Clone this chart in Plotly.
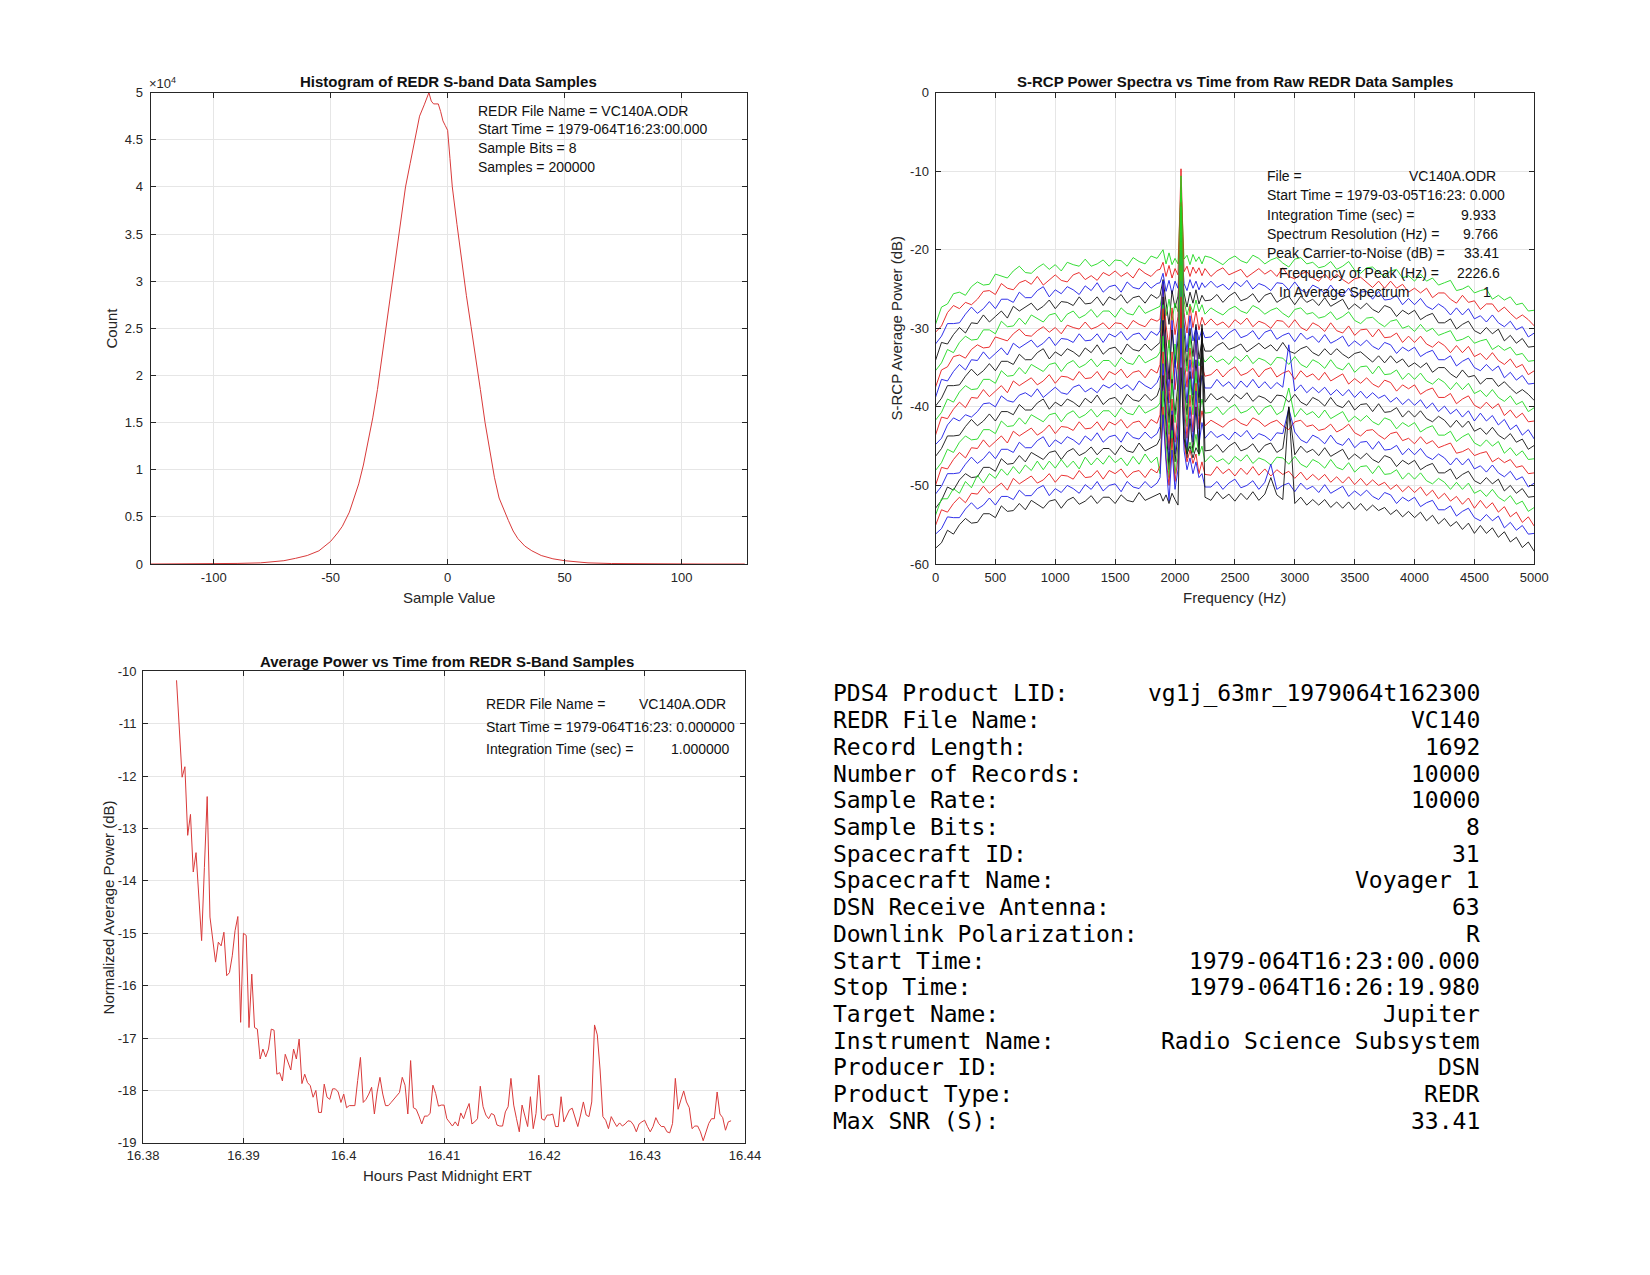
import plotly.graph_objects as go

W, H = 1650, 1275

# ---------------- Histogram data ----------------
HIST_SAMPLE_VALUES = [-127, -110, -100, -90, -80, -75, -70, -65, -60, -55, -50, -47, -45, -42, -40,
                      -38, -36, -34, -32, -30, -28, -26, -24, -22, -20, -18, -16, -15, -14, -12,
                      -10, -8, -7, -6, -5, -4, -3, -2, -1, 0, 1, 2, 4, 6, 8, 10, 12, 14, 16, 18,
                      20, 22, 24, 26, 28, 30, 33, 36, 40, 45, 50, 55, 60, 70, 80, 90, 100, 110, 127]
HIST_COUNTS = [0, 10, 30, 60, 120, 200, 350, 600, 900, 1400, 2400, 3300, 4000, 5500, 7000,
               8500, 10500, 13000, 15500, 18500, 22000, 25500, 29000, 32500, 36000, 40000, 42500, 43800, 44700, 47500,
               48700, 50000, 49100, 48800, 48800, 48800, 48000, 47000, 46500, 46000, 43000, 40000, 36000, 32000, 28500,
               25200, 22000, 18500, 15000, 12000, 9200, 7000, 5700, 4600, 3500, 2700, 1900, 1400, 900, 550,
               350, 200, 120, 50, 20, 10, 5, 0, 0]
HIST_XTICKS = [-100, -50, 0, 50, 100]
HIST_XTICK_LABELS = ["-100", "-50", "0", "50", "100"]
HIST_YTICKS = [0, 5000, 10000, 15000, 20000, 25000, 30000, 35000, 40000, 45000, 50000]
HIST_YTICK_LABELS = ["0", "0.5", "1", "1.5", "2", "2.5", "3", "3.5", "4", "4.5", "5"]

# ---------------- Spectra data (20 spectra, dB) ----------------
SPEC_F_LEFT = list(range(0, 1851, 50))
SPEC_F_CENTER = list(range(1875, 2251, 25))
SPEC_F_RIGHT = list(range(2300, 5001, 50))
SPEC_COLORS = ["#1ed81e", "#e81818", "#1a1ae6", "#111111"]

SPEC_LEFT = [
    [-29.5,-27.3,-26.9,-25.6,-25.4,-25.8,-24.7,-24.1,-24.5,-24.4,-23.1,-23.4,-23.6,-22.7,-22.1,-22.9,-23.0,-22.3,-21.8,-22.5,-21.9,-22.7,-21.6,-21.9,-22.1,-21.2,-22.1,-21.8,-21.3,-22.1,-21.3,-21.4,-22.1,-21.0,-21.5,-21.8,-20.8,-21.1],
    [-30.5,-29.7,-28.0,-27.1,-27.5,-26.7,-27.0,-26.3,-25.3,-25.2,-25.7,-24.3,-24.9,-25.1,-24.2,-23.9,-24.4,-23.4,-24.5,-23.8,-23.2,-23.9,-24.1,-23.2,-22.9,-23.8,-23.3,-23.9,-22.9,-23.3,-22.7,-23.4,-22.9,-23.6,-22.4,-23.0,-23.4,-22.6],
    [-32.0,-31.0,-29.4,-29.4,-29.3,-28.2,-27.3,-28.1,-27.5,-26.6,-27.5,-26.3,-26.3,-26.7,-25.4,-26.1,-26.1,-25.2,-24.7,-26.0,-25.1,-25.6,-24.7,-25.1,-25.7,-24.6,-25.2,-24.2,-25.4,-24.7,-24.5,-25.4,-24.1,-24.8,-25.0,-24.1,-24.9,-24.3],
    [-34.1,-31.8,-32.0,-30.8,-29.9,-30.6,-29.3,-29.4,-28.3,-29.2,-28.5,-27.8,-28.7,-27.2,-27.8,-27.3,-26.8,-27.7,-27.2,-26.4,-27.5,-26.6,-26.7,-27.1,-26.0,-26.9,-26.8,-26.0,-27.1,-26.0,-26.4,-25.7,-26.8,-26.1,-25.9,-26.8,-25.7,-26.2],
    [-35.4,-34.4,-32.7,-33.1,-31.8,-31.0,-31.5,-31.4,-30.2,-30.2,-30.7,-29.1,-29.8,-29.7,-28.7,-29.5,-28.3,-28.8,-29.2,-28.3,-28.1,-29.2,-28.2,-27.8,-28.7,-28.3,-27.6,-28.6,-27.8,-27.8,-28.6,-27.4,-28.1,-28.3,-27.1,-28.1,-27.7,-27.3],
    [-37.5,-35.3,-34.9,-33.6,-33.4,-33.8,-32.7,-32.1,-32.5,-32.4,-31.1,-31.4,-31.6,-30.7,-30.1,-30.9,-31.0,-30.3,-29.8,-30.5,-29.9,-30.7,-29.6,-29.9,-30.1,-29.2,-30.1,-29.8,-29.3,-30.1,-29.3,-29.4,-30.1,-29.0,-29.5,-29.8,-28.8,-29.1],
    [-38.8,-36.5,-36.7,-35.5,-34.6,-35.3,-34.0,-34.1,-33.0,-33.9,-33.2,-32.5,-33.4,-31.9,-32.5,-32.0,-31.5,-32.4,-31.9,-31.1,-32.2,-31.3,-31.4,-31.8,-30.7,-31.6,-31.5,-30.7,-31.8,-30.7,-31.1,-30.4,-31.5,-30.8,-30.6,-31.5,-30.4,-30.9],
    [-39.9,-38.9,-37.3,-37.3,-37.2,-36.1,-35.2,-36.0,-35.4,-34.5,-35.4,-34.2,-34.2,-34.6,-33.3,-34.0,-34.0,-33.1,-32.6,-33.9,-33.0,-33.5,-32.6,-33.0,-33.6,-32.5,-33.1,-32.1,-33.3,-32.6,-32.4,-33.3,-32.0,-32.7,-32.9,-32.0,-32.8,-32.2],
    [-41.7,-40.7,-39.0,-39.4,-38.1,-37.3,-37.8,-37.7,-36.5,-36.5,-37.0,-35.4,-36.1,-36.0,-35.0,-35.8,-34.6,-35.1,-35.5,-34.6,-34.4,-35.5,-34.5,-34.1,-35.0,-34.6,-33.9,-34.9,-34.1,-34.1,-34.9,-33.7,-34.4,-34.6,-33.4,-34.4,-34.0,-33.6],
    [-43.6,-41.3,-41.5,-40.3,-39.4,-40.1,-38.8,-38.9,-37.8,-38.7,-38.0,-37.3,-38.2,-36.7,-37.3,-36.8,-36.3,-37.2,-36.7,-35.9,-37.0,-36.1,-36.2,-36.6,-35.5,-36.4,-36.3,-35.5,-36.6,-35.5,-35.9,-35.2,-36.3,-35.6,-35.4,-36.3,-35.2,-35.7],
    [-44.8,-44.0,-42.3,-41.4,-41.8,-41.0,-41.3,-40.6,-39.6,-39.5,-40.0,-38.6,-39.2,-39.4,-38.5,-38.2,-38.7,-37.7,-38.8,-38.1,-37.5,-38.2,-38.4,-37.5,-37.2,-38.1,-37.6,-38.2,-37.2,-37.6,-37.0,-37.7,-37.2,-37.9,-36.7,-37.3,-37.7,-36.9],
    [-46.3,-45.3,-43.7,-43.7,-43.6,-42.5,-41.6,-42.4,-41.8,-40.9,-41.8,-40.6,-40.6,-41.0,-39.7,-40.4,-40.4,-39.5,-39.0,-40.3,-39.4,-39.9,-39.0,-39.4,-40.0,-38.9,-39.5,-38.5,-39.7,-39.0,-38.8,-39.7,-38.4,-39.1,-39.3,-38.4,-39.2,-38.6],
    [-48.1,-47.1,-45.4,-45.8,-44.5,-43.7,-44.2,-44.1,-42.9,-42.9,-43.4,-41.8,-42.5,-42.4,-41.4,-42.2,-41.0,-41.5,-41.9,-41.0,-40.8,-41.9,-40.9,-40.5,-41.4,-41.0,-40.3,-41.3,-40.5,-40.5,-41.3,-40.1,-40.8,-41.0,-39.8,-40.8,-40.4,-40.0],
    [-50.0,-47.7,-47.9,-46.7,-45.8,-46.5,-45.2,-45.3,-44.2,-45.1,-44.4,-43.7,-44.6,-43.1,-43.7,-43.2,-42.7,-43.6,-43.1,-42.3,-43.4,-42.5,-42.6,-43.0,-41.9,-42.8,-42.7,-41.9,-43.0,-41.9,-42.3,-41.6,-42.7,-42.0,-41.8,-42.7,-41.6,-42.1],
    [-51.1,-50.1,-48.5,-48.5,-48.4,-47.3,-46.4,-47.2,-46.6,-45.7,-46.6,-45.4,-45.4,-45.8,-44.5,-45.2,-45.2,-44.3,-43.8,-45.1,-44.2,-44.7,-43.8,-44.2,-44.8,-43.7,-44.3,-43.3,-44.5,-43.8,-43.6,-44.5,-43.2,-43.9,-44.1,-43.2,-44.0,-43.4],
    [-52.9,-51.9,-50.2,-50.6,-49.3,-48.5,-49.0,-48.9,-47.7,-47.7,-48.2,-46.6,-47.3,-47.2,-46.2,-47.0,-45.8,-46.3,-46.7,-45.8,-45.6,-46.7,-45.7,-45.3,-46.2,-45.8,-45.1,-46.1,-45.3,-45.3,-46.1,-44.9,-45.6,-45.8,-44.6,-45.6,-45.2,-44.8],
    [-53.8,-51.7,-51.7,-50.4,-51.0,-49.5,-50.3,-48.7,-49.7,-48.5,-49.1,-47.9,-48.7,-47.6,-48.5,-47.4,-48.1,-46.9,-48.0,-46.9,-47.8,-46.7,-47.7,-46.9,-47.9,-46.4,-47.4,-46.5,-47.3,-46.2,-47.1,-46.5,-47.5,-46.3,-47.3,-46.0,-47.1,-46.4],
    [-55.1,-53.1,-53.4,-52.3,-51.5,-52.2,-51.0,-51.1,-50.1,-51.0,-50.3,-49.7,-50.6,-49.1,-49.8,-49.3,-48.8,-49.7,-49.3,-48.5,-49.6,-48.7,-48.8,-49.2,-48.1,-49.0,-48.9,-48.1,-49.2,-48.1,-48.5,-47.9,-49.0,-48.3,-48.1,-49.0,-47.9,-48.4],
    [-56.2,-55.5,-54.0,-54.1,-54.1,-53.0,-52.2,-53.0,-52.5,-51.6,-52.5,-51.4,-51.4,-51.8,-50.6,-51.3,-51.3,-50.4,-50.0,-51.3,-50.4,-50.9,-50.0,-50.4,-51.0,-49.9,-50.5,-49.5,-50.7,-50.0,-49.8,-50.8,-49.5,-50.2,-50.4,-49.5,-50.3,-49.7],
    [-58.0,-57.3,-55.7,-56.2,-55.0,-54.2,-54.8,-54.7,-53.6,-53.6,-54.1,-52.6,-53.3,-53.2,-52.3,-53.1,-51.9,-52.4,-52.9,-52.0,-51.8,-52.9,-51.9,-51.5,-52.4,-52.0,-51.3,-52.3,-51.5,-51.5,-52.3,-51.2,-51.9,-52.1,-50.9,-51.9,-51.5,-51.1],
]

SPEC_CENTER = [
    [-20.6,-20.0,-21.8,-20.4,-21.9,-21.1,-21.8,-12.0,-21.2,-20.7,-21.9,-20.6,-21.5,-20.9,-21.8,-20.8],
    [-22.5,-21.6,-23.4,-22.0,-23.6,-22.4,-23.2,-9.7,-22.8,-22.1,-23.4,-22.2,-23.0,-22.3,-23.3,-22.4],
    [-24.2,-23.0,-25.3,-23.9,-25.6,-24.0,-24.9,-17.8,-24.3,-25.2,-23.8,-24.9,-24.0,-25.1,-24.2,-24.8],
    [-25.8,-23.8,-27.0,-29.5,-25.2,-27.4,-25.9,-21.0,-25.5,-27.3,-25.4,-26.8,-25.1,-26.9,-25.8,-26.5],
    [-27.2,-25.0,-28.4,-26.3,-29.0,-26.8,-27.9,-10.6,-26.5,-28.3,-26.9,-28.0,-26.4,-27.9,-27.0,-28.2],
    [-28.8,-24.5,-29.6,-32.5,-27.4,-30.8,-28.5,-14.0,-28.0,-30.6,-27.2,-29.9,-27.8,-30.2,-28.6,-29.6],
    [-30.3,-24.0,-33.5,-38.0,-29.0,-34.5,-30.0,-18.5,-29.2,-33.0,-28.4,-31.6,-29.8,-31.5,-30.1,-31.2],
    [-31.8,-26.0,-31.0,-36.5,-30.2,-35.0,-31.5,-23.0,-30.5,-34.8,-30.0,-33.6,-29.5,-33.9,-31.6,-32.9],
    [-33.0,-27.0,-35.5,-31.5,-37.5,-32.0,-35.2,-13.5,-32.5,-35.5,-31.0,-35.0,-32.0,-34.8,-33.5,-34.3],
    [-34.6,-27.5,-33.0,-39.5,-33.0,-37.8,-34.0,-19.0,-33.5,-37.5,-32.5,-36.4,-31.5,-36.9,-34.8,-36.1],
    [-36.0,-29.0,-35.0,-40.0,-44.5,-34.0,-38.0,-20.0,-35.0,-39.5,-34.0,-38.5,-30.2,-38.8,-36.0,-37.6],
    [-37.5,-29.0,-36.0,-42.0,-36.5,-41.0,-37.0,-25.0,-37.0,-41.0,-35.5,-39.8,-34.0,-39.5,-30.0,-39.4],
    [-39.5,-31.0,-38.0,-43.5,-37.0,-42.0,-38.5,-14.5,-37.5,-42.5,-36.5,-41.0,-35.5,-41.2,-39.0,-40.8],
    [-41.0,-33.0,-40.0,-45.5,-39.0,-44.5,-40.5,-22.0,-39.5,-44.0,-38.5,-43.2,-37.0,-42.8,-40.5,-42.4],
    [-42.5,-34.5,-41.0,-47.0,-40.5,-46.0,-42.0,-24.0,-41.0,-45.5,-40.0,-44.5,-38.0,-44.8,-42.0,-44.0],
    [-44.0,-36.0,-42.5,-48.0,-41.0,-47.0,-43.5,-28.0,-42.5,-46.5,-41.5,-45.8,-40.0,-46.0,-29.5,-45.6],
    [-48.5,-38.0,-44.5,-49.0,-43.0,-48.5,-45.0,-19.0,-44.0,-46.0,-44.5,-45.8,-43.5,-46.2,-45.0,-47.0],
    [-47.5,-40.0,-46.5,-50.0,-44.0,-49.5,-46.5,-26.0,-44.5,-47.0,-45.5,-47.2,-46.0,-48.5,-47.0,-48.6],
    [-49.0,-41.0,-47.0,-52.0,-45.5,-50.5,-48.0,-30.0,-45.5,-48.0,-46.5,-48.5,-47.0,-49.0,-48.5,-50.2],
    [-51.0,-52.0,-51.2,-52.3,-51.0,-51.8,-52.5,-35.0,-44.0,-46.0,-45.0,-46.5,-45.2,-46.0,-31.5,-51.5],
]

SPEC_RIGHT = [
    [-21.0,-21.5,-21.9,-21.2,-20.8,-21.4,-21.7,-20.7,-21.1,-21.8,-21.3,-21.0,-21.7,-22.2,-21.2,-21.0,-21.8,-21.6,-22.3,-22.1,-21.5,-22.5,-22.1,-21.5,-22.6,-23.0,-22.3,-22.2,-22.9,-23.4,-22.7,-22.5,-23.6,-23.3,-24.0,-23.1,-24.0,-23.6,-24.5,-24.2,-23.9,-25.2,-25.0,-24.6,-25.5,-25.2,-25.0,-26.3,-25.8,-26.4,-26.0,-27.0,-26.8,-27.8,-27.7],
    [-23.4,-22.7,-22.3,-23.2,-22.9,-22.5,-23.5,-23.0,-22.4,-23.1,-22.6,-23.4,-22.3,-23.4,-23.7,-23.1,-22.8,-23.6,-24.0,-23.1,-23.9,-23.1,-23.8,-24.3,-23.7,-23.5,-24.2,-24.8,-24.0,-24.9,-24.0,-24.9,-24.4,-25.4,-24.9,-25.5,-24.9,-26.1,-25.5,-25.5,-26.3,-26.8,-25.8,-26.7,-26.5,-27.6,-26.9,-26.9,-27.9,-27.3,-28.1,-28.8,-28.3,-28.9,-29.7],
    [-24.0,-24.8,-24.4,-25.1,-24.1,-24.7,-23.9,-25.0,-24.3,-24.6,-25.2,-24.2,-24.3,-25.1,-24.1,-25.1,-25.5,-24.5,-24.9,-25.6,-24.5,-25.5,-25.8,-24.9,-26.1,-25.4,-25.3,-26.3,-25.3,-26.4,-26.3,-25.8,-27.0,-26.2,-27.0,-26.2,-27.2,-27.6,-26.9,-27.4,-28.3,-27.4,-28.3,-27.5,-28.8,-28.4,-29.2,-28.3,-29.3,-29.8,-29.1,-30.2,-29.8,-31.1,-30.6],
    [-26.4,-25.7,-26.7,-25.9,-25.4,-26.5,-26.2,-25.6,-26.7,-25.8,-25.5,-26.7,-26.2,-25.9,-27.0,-25.9,-26.7,-26.3,-27.1,-26.1,-27.2,-26.8,-26.3,-27.6,-26.9,-27.5,-26.8,-27.6,-28.0,-27.1,-27.4,-28.5,-27.7,-28.2,-27.7,-28.9,-28.4,-28.1,-29.3,-29.3,-28.8,-30.1,-29.5,-29.1,-30.3,-30.7,-29.9,-30.7,-30.1,-31.6,-30.9,-31.9,-31.3,-32.4,-32.3],
    [-27.4,-27.9,-28.3,-27.6,-27.2,-27.8,-28.1,-27.1,-27.5,-28.2,-27.7,-27.4,-28.1,-28.6,-27.6,-27.4,-28.2,-28.0,-28.7,-28.5,-27.9,-28.9,-28.5,-27.9,-29.0,-29.4,-28.7,-28.6,-29.3,-29.8,-29.1,-28.9,-30.0,-29.7,-30.4,-29.5,-30.4,-30.0,-30.9,-30.6,-30.3,-31.6,-31.4,-31.0,-31.9,-31.6,-31.4,-32.7,-32.2,-32.8,-32.4,-33.4,-33.2,-34.2,-34.1],
    [-28.8,-29.6,-29.2,-29.9,-28.9,-29.5,-28.7,-29.8,-29.1,-29.4,-30.0,-29.0,-29.1,-29.9,-28.9,-29.9,-30.3,-29.3,-29.7,-30.4,-29.3,-30.3,-30.6,-29.7,-30.9,-30.2,-30.1,-31.1,-30.1,-31.2,-31.1,-30.6,-31.8,-31.0,-31.8,-31.0,-32.0,-32.4,-31.7,-32.2,-33.1,-32.2,-33.1,-32.3,-33.6,-33.2,-34.0,-33.1,-34.1,-34.6,-33.9,-35.0,-34.6,-35.9,-35.4],
    [-31.1,-30.4,-31.4,-30.6,-30.1,-31.2,-30.9,-30.3,-31.4,-30.5,-30.2,-31.4,-30.9,-30.6,-31.7,-30.6,-31.4,-31.0,-31.8,-30.8,-31.9,-31.5,-31.0,-32.3,-31.6,-32.2,-31.5,-32.3,-32.7,-31.8,-32.1,-33.2,-32.4,-32.9,-32.4,-33.6,-33.1,-32.8,-34.0,-34.0,-33.5,-34.8,-34.2,-33.8,-35.0,-35.4,-34.6,-35.4,-34.8,-36.3,-35.6,-36.6,-36.0,-37.1,-37.0],
    [-32.9,-32.2,-31.8,-32.7,-32.4,-32.0,-33.0,-32.5,-31.9,-32.6,-32.1,-32.9,-31.8,-32.9,-33.2,-32.6,-32.3,-33.1,-33.5,-32.6,-33.4,-32.6,-33.3,-33.8,-33.2,-33.0,-33.7,-34.3,-33.5,-34.4,-33.5,-34.4,-33.9,-34.9,-34.4,-35.0,-34.4,-35.6,-35.0,-35.0,-35.8,-36.3,-35.3,-36.2,-36.0,-37.1,-36.4,-36.4,-37.4,-36.8,-37.6,-38.3,-37.8,-38.4,-39.2],
    [-33.5,-34.3,-33.9,-34.6,-33.6,-34.2,-33.4,-34.5,-33.8,-34.1,-34.7,-33.7,-33.8,-34.6,-33.6,-34.6,-35.0,-34.0,-34.4,-35.1,-34.0,-35.0,-35.3,-34.4,-35.6,-34.9,-34.8,-35.8,-34.8,-35.9,-35.8,-35.3,-36.5,-35.7,-36.5,-35.7,-36.7,-37.1,-36.4,-36.9,-37.8,-36.9,-37.8,-37.0,-38.3,-37.9,-38.7,-37.8,-38.8,-39.3,-38.6,-39.7,-39.3,-40.6,-40.1],
    [-35.9,-35.2,-36.2,-35.4,-34.9,-36.0,-35.7,-35.1,-36.2,-35.3,-35.0,-36.2,-35.7,-35.4,-36.5,-35.4,-36.2,-35.8,-36.6,-35.6,-36.7,-36.3,-35.8,-37.1,-36.4,-37.0,-36.3,-37.1,-37.5,-36.6,-36.9,-38.0,-37.2,-37.7,-37.2,-38.4,-37.9,-37.6,-38.8,-38.8,-38.3,-39.6,-39.0,-38.6,-39.8,-40.2,-39.4,-40.2,-39.6,-41.1,-40.4,-41.4,-40.8,-41.9,-41.8],
    [-37.6,-36.5,-37.4,-36.8,-37.7,-36.7,-37.5,-36.5,-37.6,-36.8,-37.7,-36.9,-37.5,-32.1,-38.0,-37.2,-38.2,-37.5,-38.2,-37.5,-38.5,-37.8,-38.6,-37.8,-38.8,-38.0,-38.9,-38.2,-38.9,-38.5,-39.4,-38.8,-39.7,-39.0,-39.8,-39.1,-40.2,-39.5,-40.6,-39.9,-40.9,-40.3,-41.3,-40.5,-41.8,-40.8,-41.8,-41.1,-42.3,-41.6,-42.9,-42.3,-43.6,-42.9,-44.1],
    [-38.3,-39.1,-38.7,-39.4,-38.4,-39.0,-38.2,-39.3,-38.6,-38.9,-39.5,-38.5,-38.6,-39.4,-38.4,-39.4,-39.8,-38.8,-39.2,-39.9,-38.8,-39.8,-40.1,-39.2,-40.4,-39.7,-39.6,-40.6,-39.6,-40.7,-40.6,-40.1,-41.3,-40.5,-41.3,-40.5,-41.5,-41.9,-41.2,-41.7,-42.6,-41.7,-42.6,-41.8,-43.1,-42.7,-43.5,-42.6,-43.6,-44.1,-43.4,-44.5,-44.1,-45.4,-44.9],
    [-40.7,-40.0,-41.0,-40.2,-39.7,-40.8,-40.5,-39.9,-41.0,-40.1,-39.8,-41.0,-40.5,-37.6,-41.3,-40.2,-41.0,-40.6,-41.4,-40.4,-41.5,-41.1,-40.6,-41.9,-41.2,-41.8,-41.1,-41.9,-42.3,-41.4,-41.7,-42.8,-42.0,-42.5,-42.0,-43.2,-42.7,-42.4,-43.6,-43.6,-43.1,-44.4,-43.8,-43.4,-44.6,-45.0,-44.2,-45.0,-44.4,-45.9,-45.2,-46.2,-45.6,-46.7,-46.6],
    [-41.7,-42.2,-42.6,-41.9,-41.5,-42.1,-42.4,-41.4,-41.8,-42.5,-42.0,-41.7,-42.4,-42.9,-41.9,-41.7,-42.5,-42.3,-43.0,-42.8,-42.2,-43.2,-42.8,-42.2,-43.3,-43.7,-43.0,-42.9,-43.6,-44.1,-43.4,-43.2,-44.3,-44.0,-44.7,-43.8,-44.7,-44.3,-45.2,-44.9,-44.6,-45.9,-45.7,-45.3,-46.2,-45.9,-45.7,-47.0,-46.5,-47.1,-46.7,-47.7,-47.5,-48.5,-48.4],
    [-43.1,-43.9,-43.5,-44.2,-43.2,-43.8,-43.0,-44.1,-43.4,-43.7,-44.3,-43.3,-43.4,-40.2,-43.2,-44.2,-44.6,-43.6,-44.0,-44.7,-43.6,-44.6,-44.9,-44.0,-45.2,-44.5,-44.4,-45.4,-44.4,-45.5,-45.4,-44.9,-46.1,-45.3,-46.1,-45.3,-46.3,-46.7,-46.0,-46.5,-47.4,-46.5,-47.4,-46.6,-47.9,-47.5,-48.3,-47.4,-48.4,-48.9,-48.2,-49.3,-48.9,-50.2,-49.7],
    [-45.5,-44.8,-45.8,-45.0,-44.5,-45.6,-45.3,-44.7,-45.8,-44.9,-44.6,-45.8,-45.3,-40.0,-46.1,-45.0,-45.8,-45.4,-46.2,-45.2,-46.3,-45.9,-45.4,-46.7,-46.0,-46.6,-45.9,-46.7,-47.1,-46.2,-46.5,-47.6,-46.8,-47.3,-46.8,-48.0,-47.5,-47.2,-48.4,-48.4,-47.9,-49.2,-48.6,-48.2,-49.4,-49.8,-49.0,-49.8,-49.2,-50.7,-50.0,-51.0,-50.4,-51.5,-51.4],
    [-46.2,-47.0,-46.6,-47.3,-46.3,-46.9,-46.1,-47.2,-46.5,-46.8,-47.4,-46.4,-46.5,-47.3,-46.3,-47.3,-47.7,-46.7,-47.1,-47.8,-46.7,-47.7,-48.0,-47.1,-48.3,-47.6,-47.5,-48.5,-47.5,-48.6,-48.5,-48.0,-49.2,-48.4,-49.2,-48.4,-49.4,-49.8,-49.1,-49.6,-50.5,-49.6,-50.5,-49.7,-51.0,-50.6,-51.4,-50.5,-51.5,-52.0,-51.3,-52.4,-52.0,-53.3,-52.8],
    [-48.7,-47.6,-48.5,-47.9,-48.8,-47.8,-48.6,-47.6,-48.7,-47.9,-48.8,-48.0,-48.6,-48.2,-49.1,-48.3,-49.3,-48.6,-49.3,-48.6,-49.6,-48.9,-49.7,-48.9,-49.9,-49.1,-50.0,-49.3,-50.0,-49.6,-50.5,-49.9,-50.8,-50.1,-50.9,-50.2,-51.3,-50.6,-51.7,-51.0,-52.0,-51.4,-52.4,-51.6,-52.9,-51.9,-52.9,-52.2,-53.4,-52.7,-54.0,-53.4,-54.7,-54.0,-55.2],
    [-50.2,-49.5,-50.5,-49.7,-49.2,-50.3,-50.0,-49.4,-50.5,-49.6,-47.3,-50.5,-50.0,-49.7,-50.8,-49.7,-50.5,-50.1,-50.9,-49.9,-51.0,-50.6,-50.1,-51.4,-50.7,-51.3,-50.6,-51.4,-51.8,-50.9,-51.2,-52.3,-51.5,-52.0,-51.5,-52.7,-52.2,-51.9,-53.1,-53.1,-52.6,-53.9,-53.3,-52.9,-54.1,-54.5,-53.7,-54.5,-53.9,-55.4,-54.7,-55.7,-55.1,-56.2,-56.1],
    [-51.9,-50.8,-51.7,-51.1,-52.0,-51.0,-51.8,-50.8,-51.9,-51.1,-49.0,-51.2,-51.8,-40.0,-52.3,-51.5,-52.5,-51.8,-52.5,-51.8,-52.8,-52.1,-52.9,-52.1,-53.1,-52.3,-53.2,-52.5,-53.2,-52.8,-53.7,-53.1,-54.0,-53.3,-54.1,-53.4,-54.5,-53.8,-54.9,-54.2,-55.2,-54.6,-55.6,-54.8,-56.1,-55.1,-56.1,-55.4,-56.6,-55.9,-57.2,-56.6,-57.9,-57.2,-58.4],
]
SPEC_XTICKS = [0, 500, 1000, 1500, 2000, 2500, 3000, 3500, 4000, 4500, 5000]
SPEC_XTICK_LABELS = ["0", "500", "1000", "1500", "2000", "2500", "3000", "3500", "4000", "4500", "5000"]
SPEC_YTICKS = [-60, -50, -40, -30, -20, -10, 0]
SPEC_YTICK_LABELS = ["-60", "-50", "-40", "-30", "-20", "-10", "0"]

# ---------------- Average power vs time (1 s integration) ----------------
POWER_START_HOURS = 16 + 23 / 60.0
POWER_STEP_SEC = 1.0
POWER_DB = [
    -10.17, -11.06, -12.02, -11.82, -13.13, -12.73, -13.83, -13.46, -14.25, -15.14,
    -13.74, -12.39, -14.69, -15.08, -15.55, -15.17, -15.24, -14.98, -15.81, -15.75,
    -15.43, -14.95, -14.68, -16.70, -15.00, -15.04, -16.80, -15.78, -16.80, -16.83,
    -17.40, -17.21, -17.36, -17.21, -16.83, -16.85, -17.69, -17.66, -17.82, -17.31,
    -17.46, -17.61, -17.21, -17.40, -17.02, -17.87, -17.69, -17.85, -17.91, -18.13,
    -18.00, -18.42, -18.42, -17.88, -18.13, -18.17, -17.97, -17.97, -18.03, -18.23,
    -18.07, -18.33, -18.29, -18.29, -18.29, -17.81, -17.37, -18.23, -18.17, -18.07,
    -17.94, -18.45, -18.03, -17.75, -18.07, -18.29, -18.29, -18.23, -18.17, -18.10,
    -18.04, -17.75, -17.90, -18.45, -17.43, -18.33, -18.36, -18.49, -18.64, -18.49,
    -18.49, -18.44, -17.90, -18.06, -18.30, -18.28, -18.28, -18.54, -18.60, -18.68,
    -18.60, -18.68, -18.43, -18.54, -18.38, -18.25, -18.64, -18.60, -18.54, -17.92,
    -18.31, -18.47, -18.54, -18.44, -18.47, -18.66, -18.68, -18.68, -18.41, -18.31,
    -17.77, -18.28, -18.54, -18.79, -18.28, -18.47, -18.69, -18.12, -18.73, -18.44,
    -17.71, -18.54, -18.57, -18.47, -18.47, -18.45, -18.69, -18.69, -18.12, -18.60,
    -18.49, -18.37, -18.34, -18.54, -18.69, -18.47, -18.22, -18.47, -18.50, -18.22,
    -16.75, -16.94, -17.61, -18.50, -18.57, -18.73, -18.50, -18.60, -18.69, -18.62,
    -18.68, -18.64, -18.58, -18.59, -18.66, -18.79, -18.64, -18.60, -18.57, -18.69,
    -18.79, -18.69, -18.52, -18.63, -18.69, -18.69, -18.79, -18.81, -18.63, -17.77,
    -18.36, -18.18, -18.01, -18.22, -18.33, -18.73, -18.68, -18.68, -18.79, -18.96,
    -18.79, -18.63, -18.54, -18.54, -18.03, -18.45, -18.52, -18.76, -18.60, -18.58,
]
POWER_XTICKS = [16.38, 16.39, 16.40, 16.41, 16.42, 16.43, 16.44]
POWER_XTICK_LABELS = ["16.38", "16.39", "16.4", "16.41", "16.42", "16.43", "16.44"]
POWER_YTICKS = [-19, -18, -17, -16, -15, -14, -13, -12, -11, -10]
POWER_YTICK_LABELS = ["-19", "-18", "-17", "-16", "-15", "-14", "-13", "-12", "-11", "-10"]

# ---------------- Text ----------------
HIST_TITLE = "Histogram of REDR S-band Data Samples"
SPEC_TITLE = "S-RCP Power Spectra vs Time from Raw REDR Data Samples"
POWER_TITLE = "Average Power vs Time from REDR S-Band Samples"
HIST_INFO = ["REDR File Name = VC140A.ODR", "Start Time = 1979-064T16:23:00.000",
             "Sample Bits = 8", "Samples = 200000"]
SPEC_INFO_LABELS = ["File =", "Start Time = 1979-03-05T16:23: 0.000", "Integration Time (sec) =",
                    "Spectrum Resolution (Hz) =", "Peak Carrier-to-Noise (dB) =",
                    "Frequency of Peak (Hz) =", "In Average Spectrum"]
SPEC_INFO_VALUES = ["VC140A.ODR", "", "9.933", "9.766", "33.41", "2226.6", "1"]
POWER_INFO_LABELS = ["REDR File Name =", "Start Time = 1979-064T16:23: 0.000000", "Integration Time (sec) ="]
POWER_INFO_VALUES = ["VC140A.ODR", "", "1.000000"]
TABLE_LABELS = ["PDS4 Product LID:", "REDR File Name:", "Record Length:", "Number of Records:",
                "Sample Rate:", "Sample Bits:", "Spacecraft ID:", "Spacecraft Name:",
                "DSN Receive Antenna:", "Downlink Polarization:", "Start Time:", "Stop Time:",
                "Target Name:", "Instrument Name:", "Producer ID:", "Product Type:", "Max SNR (S):"]
TABLE_VALUES = ["vg1j_63mr_1979064t162300", "VC140", "1692", "10000", "10000", "8", "31",
                "Voyager 1", "63", "R", "1979-064T16:23:00.000", "1979-064T16:26:19.980",
                "Jupiter", "Radio Science Subsystem", "DSN", "REDR", "33.41"]

# ---------------- Styling ----------------
FONT = "Liberation Sans, Arial, Helvetica, sans-serif"
MONO = "DejaVu Sans Mono, Liberation Mono, monospace"
AXC = "#262626"
GRID = "#e6e6e6"
PAGE_OFFSET = 8  # the html page body margin shifts the figure by this many pixels


def px(x):
    return (x - PAGE_OFFSET) / W


def py(y):
    return 1 - (y - PAGE_OFFSET) / H


fig = go.Figure()

# Histogram
fig.add_trace(go.Scatter(x=HIST_SAMPLE_VALUES, y=HIST_COUNTS, mode="lines",
                         line=dict(color="#d93a3a", width=1), xaxis="x", yaxis="y",
                         showlegend=False, hoverinfo="skip"))

# Spectra
for k in range(len(SPEC_LEFT)):
    xs, ys = [], []
    for fseg, vseg in ((SPEC_F_LEFT, SPEC_LEFT[k]), (SPEC_F_CENTER, SPEC_CENTER[k]),
                       (SPEC_F_RIGHT, SPEC_RIGHT[k])):
        n = min(len(fseg), len(vseg))
        xs += fseg[:n]
        ys += vseg[:n]
    fig.add_trace(go.Scatter(x=xs, y=ys, mode="lines",
                             line=dict(color=SPEC_COLORS[k % 4], width=0.9),
                             xaxis="x2", yaxis="y2", showlegend=False, hoverinfo="skip"))

# Power vs time
power_x = [POWER_START_HOURS + i * POWER_STEP_SEC / 3600.0 for i in range(len(POWER_DB))]
fig.add_trace(go.Scatter(x=power_x, y=POWER_DB, mode="lines",
                         line=dict(color="#d93a3a", width=1), xaxis="x3", yaxis="y3",
                         showlegend=False, hoverinfo="skip"))


def axis(domain, rng, tickvals, ticktext, anchor, standoff):
    return dict(domain=domain, range=rng, tickmode="array", tickvals=tickvals, ticktext=ticktext,
                anchor=anchor, showline=True, linecolor=AXC, linewidth=1, mirror="ticks",
                ticks="inside", ticklen=5, tickwidth=1, tickcolor=AXC,
                showgrid=True, gridcolor=GRID, gridwidth=1, zeroline=False, automargin=False,
                ticklabelstandoff=standoff,
                tickfont=dict(family=FONT, size=13, color="#262626"), fixedrange=True)


HIST_XD = [px(150.5), px(747.1)]
SPEC_XD = [px(935.5), px(1534.3)]
POW_XD = [px(143.1), px(745.0)]
TOP_YD = [py(564.0), py(92.6)]
BOT_YD = [py(1142.8), py(671.4)]

fig.update_layout(
    template="none", autosize=False,
    width=W, height=H, margin=dict(l=0, r=0, t=0, b=0, pad=0),
    paper_bgcolor="white", plot_bgcolor="white", showlegend=False,
    xaxis=axis(HIST_XD, [-127, 128], HIST_XTICKS, HIST_XTICK_LABELS, "y", 1),
    yaxis=axis(TOP_YD, [0, 50000], HIST_YTICKS, HIST_YTICK_LABELS, "x", 4),
    xaxis2=axis(SPEC_XD, [0, 5000], SPEC_XTICKS, SPEC_XTICK_LABELS, "y2", 1),
    yaxis2=axis(TOP_YD, [-60, 0], SPEC_YTICKS, SPEC_YTICK_LABELS, "x2", 3),
    xaxis3=axis(POW_XD, [16.38, 16.44], POWER_XTICKS, POWER_XTICK_LABELS, "y3", 1),
    yaxis3=axis(BOT_YD, [-19, -10], POWER_YTICKS, POWER_YTICK_LABELS, "x3", 3),
)


def ann(text, x, y, xanchor="left", yanchor="middle", size=14, family=FONT, angle=0, color="#111111"):
    fig.add_annotation(text=text, xref="paper", yref="paper", x=px(x), y=py(y),
                       xanchor=xanchor, yanchor=yanchor, showarrow=False, textangle=angle,
                       font=dict(family=family, size=size, color=color))


# Titles
ann("<b>" + HIST_TITLE + "</b>", 448.8, 81, xanchor="center", size=15)
ann("<b>" + SPEC_TITLE + "</b>", 1234.9, 81, xanchor="center", size=15)
ann("<b>" + POWER_TITLE + "</b>", 447, 661, xanchor="center", size=15)

# Axis labels
ann("Sample Value", 448.8, 597, xanchor="center", size=15, color="#262626")
ann("Frequency (Hz)", 1234.9, 597, xanchor="center", size=15, color="#262626")
ann("Hours Past Midnight ERT", 447, 1175, xanchor="center", size=15, color="#262626")
ann("Count", 110.5, 328, xanchor="center", size=15, angle=-90, color="#262626")
ann("S-RCP Average Power (dB)", 895.5, 328, xanchor="center", size=15, angle=-90, color="#262626")
ann("Normalized Average Power (dB)", 108.4, 907, xanchor="center", size=15, angle=-90, color="#262626")

# Exponent label
ann("\u00d710<sup>4</sup>", 147, 83, xanchor="left", size=13, color="#262626")

# Histogram info
for i, t in enumerate(HIST_INFO):
    ann(t, 475.6, 110.5 + i * 18.95, size=14)

# Spectrum info
spec_rows_y = [175.7, 194.7, 214.7, 233.6, 252.6, 272.5, 291.5]
spec_label_x = [1265, 1265, 1265, 1265, 1265, 1276.5, 1276.5]
spec_value_x = [1497.5, 1497.5, 1497.5, 1499.5, 1500.6, 1501.6, 1493]
for i, t in enumerate(SPEC_INFO_LABELS):
    ann(t, spec_label_x[i], spec_rows_y[i], size=14)
    if SPEC_INFO_VALUES[i]:
        ann(SPEC_INFO_VALUES[i], spec_value_x[i], spec_rows_y[i], xanchor="right", size=14)

# Power info
pow_rows_y = [704, 727.1, 749.2]
pow_value_x = [728.2, 732.4, 732.4]
for i, t in enumerate(POWER_INFO_LABELS):
    ann(t, 484, pow_rows_y[i], size=14)
    if POWER_INFO_VALUES[i]:
        ann(POWER_INFO_VALUES[i], pow_value_x[i], pow_rows_y[i], xanchor="right", size=14)

# Product table
for i, (lab, val) in enumerate(zip(TABLE_LABELS, TABLE_VALUES)):
    yy = 693.5 + i * 26.7
    ann(lab, 831.3, yy, size=23, family=MONO, color="#000000")
    ann(val, 1481.7, yy, xanchor="right", size=23, family=MONO, color="#000000")

fig.write_html("out.html")
